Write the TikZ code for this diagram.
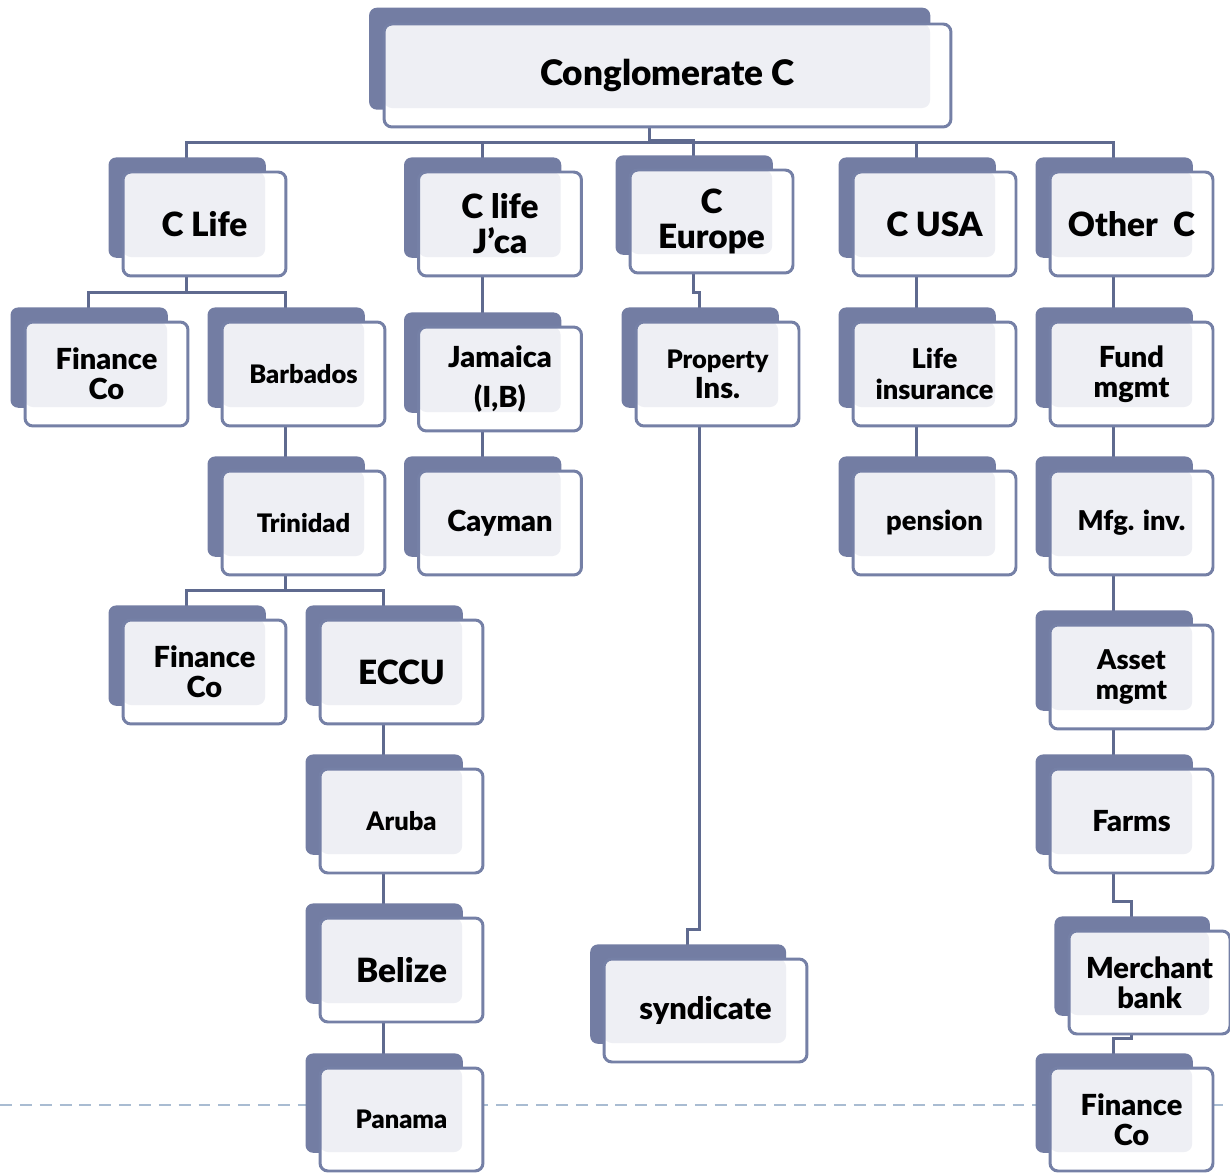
\documentclass[tikz,border=0pt]{standalone}
\usepackage{fontspec}
\setmainfont{Lato}[BoldFont={Lato Black}]
\usepackage{tikz}
\usetikzlibrary{calc,shadows,backgrounds}

\definecolor{cdark}{HTML}{737DA3}
\definecolor{cline}{HTML}{7580A6}
\definecolor{cgrey}{HTML}{EEEFF4}
\definecolor{clink}{HTML}{5F6A8F}
\definecolor{cdash}{HTML}{A9BCD2}

\begin{document}
\begin{tikzpicture}[
  x=0.02cm, y=-0.02cm,
  orgbox/.style={draw=cline,line width=1.7pt,fill=white,rounded corners=4.5pt,
    minimum width=3.26cm,minimum height=2.08cm,inner sep=0pt,align=center,
    copy shadow={shadow xshift=-10.24pt,shadow yshift=9.67pt,shadow scale=#1,fill=cdark,draw=none},
    path picture={\fill[cgrey] (path picture bounding box.north west) rectangle
      ([xshift=-11.9pt,yshift=10.8pt]path picture bounding box.south east);}},
  orgbox/.default=0.965,
  huge/.style={font=\bfseries\fontsize{20}{23}\selectfont},
  big/.style={font=\bfseries\fontsize{19}{20}\selectfont},
  mid/.style={font=\bfseries\fontsize{16.5}{17}\selectfont},
  midsmall/.style={font=\bfseries\fontsize{15.5}{17.5}\selectfont},
  small/.style={font=\bfseries\fontsize{14.5}{17}\selectfont},
  link/.style={draw=clink,line width=1.7pt},
  guide/.style={draw=cdash,line width=1.1pt,dash pattern=on 6.8pt off 4.5pt}
]
\useasboundingbox (0,0) rectangle (1230,1175);

% top
\node[orgbox=0.99,huge,minimum width=11.34cm,minimum height=2.06cm] (top) at (667.5,75.5) {Conglomerate C};

% first level
\node[orgbox,big] (clife) at (204.5,224) {C Life};
\node[orgbox,big] (cjca) at (500,224) {C life\\J'ca};
\node[orgbox,big,minimum height=2.06cm] (ceur) at (711.5,221.5) {C\\Europe};
\node[orgbox,big] (cusa) at (934.5,224) {C USA};
\node[orgbox,big] (other) at (1131.5,224) {Other~~C};

% second level
\node[orgbox,mid] (finA) at (106.5,374) {Finance\\Co};
\node[orgbox,small] (barb) at (303.5,374) {Barbados};
\node[orgbox,mid] (jam) at (500,379) {Jamaica\\[6pt](I,B)};
\node[orgbox,small] (prop) at (717.5,374) {Property\\{\fontsize{16.5}{17}\selectfont Ins.}};
\node[orgbox,midsmall] (lifeins) at (934.5,374) {Life\\insurance};
\node[orgbox,mid] (fund) at (1131.5,374) {Fund\\mgmt};

% third level
\node[orgbox,small] (trin) at (303.5,523) {Trinidad};
\node[orgbox,mid] (cay) at (500,523) {Cayman};
\node[orgbox,midsmall] (pens) at (934.5,523) {pension};
\node[orgbox,midsmall] (mfg) at (1131.5,523) {Mfg. inv.};

% fourth level
\node[orgbox,mid] (finB) at (204.5,672) {Finance\\Co};
\node[orgbox,big] (eccu) at (401.5,672) {ECCU};
\node[orgbox,midsmall] (asset) at (1131.5,677) {Asset\\mgmt};

% lower levels
\node[orgbox,small] (aruba) at (401.5,821) {Aruba};
\node[orgbox,mid] (farms) at (1131.5,821) {Farms};
\node[orgbox,big] (belize) at (401.5,970) {Belize};
\node[orgbox,font=\bfseries\fontsize{17.5}{19}\selectfont,minimum width=4.06cm,minimum height=2.06cm] (synd) at (705.5,1010.5) {syndicate};
\node[orgbox,mid,minimum width=3.22cm,minimum height=2.06cm] (merch) at (1149.5,982.5) {Merchant\\bank};
\node[orgbox,small,minimum height=2.06cm] (panama) at (401.5,1119.5) {Panama};
\node[orgbox,mid,minimum height=2.06cm] (finC) at (1131.5,1119.5) {Finance\\Co};

\begin{pgfonlayer}{background}
\draw[guide] (0,1105) -- (1230,1105);
\foreach \p/\c in {top/clife,top/cjca,top/ceur,top/cusa,top/other,
    clife/finA,clife/barb,barb/trin,trin/finB,trin/eccu,eccu/aruba,aruba/belize,belize/panama,
    cjca/jam,jam/cay,ceur/prop,prop/synd,cusa/lifeins,lifeins/pens,
    other/fund,fund/mfg,mfg/asset,asset/farms,farms/merch,merch/finC}
  \draw[link] ($(\p.center)+(-18,0)$) |- ($(\c.north)+(-18,-28)$) -- ($(\c.north)+(-18,0)$);
\end{pgfonlayer}
\end{tikzpicture}
\end{document}
